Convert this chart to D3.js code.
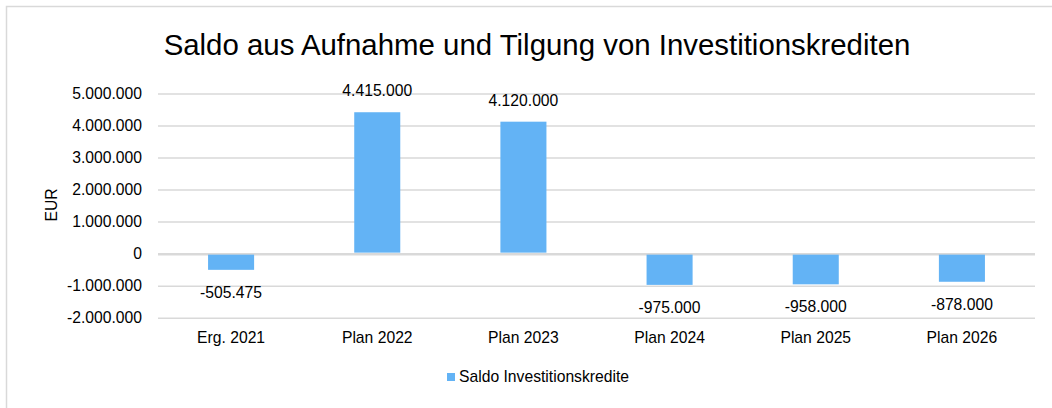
<!DOCTYPE html>
<html>
<head>
<meta charset="utf-8">
<script src="https://cdn.jsdelivr.net/npm/d3@7"></script>
<style>
  body { margin: 0; background: #fff; }
  text { font-family: "Liberation Sans", Arial, sans-serif; fill: #000; }
</style>
</head>
<body>
<svg></svg>
<script>
// Chart data
const categories = ["Erg. 2021", "Plan 2022", "Plan 2023", "Plan 2024", "Plan 2025", "Plan 2026"];
const values = [-505475, 4415000, 4120000, -975000, -958000, -878000];
const yTicks = [-2000000, -1000000, 0, 1000000, 2000000, 3000000, 4000000, 5000000];
const seriesName = "Saldo Investitionskredite";
const titleText = "Saldo aus Aufnahme und Tilgung von Investitionskrediten";
const yLabel = "EUR";

const W = 1052, H = 408;
const margin = { top: 93.5, right: 17, bottom: 90.3, left: 158 };
const width = W - margin.left - margin.right,
   height = H - margin.top - margin.bottom;
const fs = 15.7;

const svg = d3.select("svg")
   .attr("width", W)
   .attr("height", H);

// chart frame
svg.append("rect")
   .attr("x", 6.5).attr("y", 6.5)
   .attr("width", W + 10).attr("height", H + 10)
   .attr("fill", "none")
   .attr("stroke", "#d9d9d9")
   .attr("stroke-width", 1.5);

const g = svg.append("g")
   .attr("transform", `translate(${margin.left},${margin.top})`);

const x = d3.scaleBand()
   .domain(categories)
   .range([0, width])
   .paddingInner(0.685)
   .paddingOuter(0.3425);

const y = d3.scaleLinear()
   .domain([-2000000, 5000000])
   .range([height, 0]);

// German number format, plain hyphen for negatives
const de = d3.formatLocale({ decimal: ",", thousands: ".", grouping: [3], currency: ["", " €"], minus: "-" });
const fmt = de.format(",.0f");

// gridlines
g.append("g")
   .call(d3.axisLeft(y).tickValues(yTicks).tickSize(-width).tickFormat(""))
   .call(a => a.select(".domain").remove())
   .selectAll("line")
   .attr("stroke", "#d9d9d9")
   .attr("stroke-width", d => d === 0 ? 2.5 : 1.5);

// y tick labels
g.append("g")
   .attr("transform", "translate(-13,0)")
   .call(d3.axisLeft(y).tickValues(yTicks).tickSize(0).tickFormat(d => d === 0 ? "0" : fmt(d)))
   .call(a => a.select(".domain").remove())
   .selectAll("text")
   .attr("font-size", fs)
   .style("font-family", "Liberation Sans, Arial, sans-serif")
   .attr("fill", "#000");

// bars
g.selectAll(".bar")
   .data(values)
   .enter()
   .append("rect")
   .attr("x", (d, i) => x(categories[i]))
   .attr("y", d => d >= 0 ? y(d) : y(0) + 1)
   .attr("width", x.bandwidth())
   .attr("height", d => Math.abs(y(d) - y(0)) - 1)
   .attr("fill", "#63b3f5");

// value labels
g.selectAll(".vlabel")
   .data(values)
   .enter()
   .append("text")
   .attr("x", (d, i) => x(categories[i]) + x.bandwidth() / 2)
   .attr("y", d => d >= 0 ? y(d) - 16 : y(d) + 28)
   .attr("text-anchor", "middle")
   .attr("font-size", fs)
   .text(d => fmt(d));

// category labels
g.append("g")
   .attr("transform", `translate(0,${height})`)
   .call(d3.axisBottom(x).tickSize(0).tickPadding(14))
   .call(a => a.select(".domain").remove())
   .selectAll("text")
   .attr("font-size", fs)
   .style("font-family", "Liberation Sans, Arial, sans-serif")
   .attr("fill", "#000");

// y-axis title
svg.append("text")
   .attr("transform", "translate(57,205) rotate(-90)")
   .attr("text-anchor", "middle")
   .attr("font-size", fs)
   .text(yLabel);

// chart title
svg.append("text")
   .attr("x", 537)
   .attr("y", 55)
   .attr("text-anchor", "middle")
   .attr("font-size", 29.4)
   .text(titleText);

// legend
const legend = svg.append("g").attr("transform", "translate(447,373)");
legend.append("rect").attr("width", 8).attr("height", 8).attr("fill", "#63b3f5");
legend.append("text").attr("x", 12).attr("y", 9).attr("font-size", fs).text(seriesName);
</script>
</body>
</html>
